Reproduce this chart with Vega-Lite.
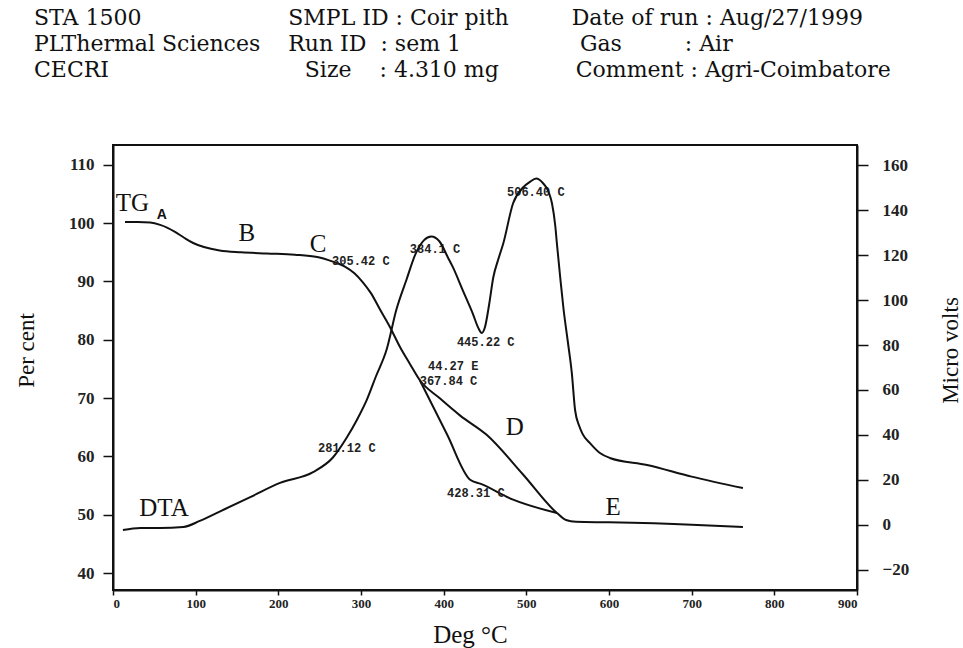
{
  "$schema": "https://vega.github.io/schema/vega-lite/v6.json",
  "width": 744,
  "height": 445,
  "autosize": {"type": "none"},
  "padding": {"left": 113, "top": 145, "right": 106, "bottom": 58},
  "background": "white",
  "title": {
    "text": [
      "STA 1500\u00a0\u00a0\u00a0\u00a0\u00a0\u00a0\u00a0\u00a0\u00a0\u00a0\u00a0\u00a0\u00a0\u00a0\u00a0\u00a0\u00a0\u00a0\u00a0\u00a0\u00a0SMPL ID : Coir pith\u00a0\u00a0\u00a0\u00a0\u00a0\u00a0\u00a0\u00a0\u00a0Date of run\u00a0: Aug/27/1999",
      "PLThermal Sciences\u00a0\u00a0\u00a0\u00a0Run ID\u00a0\u00a0: sem 1\u00a0\u00a0\u00a0\u00a0\u00a0\u00a0\u00a0\u00a0\u00a0\u00a0\u00a0\u00a0\u00a0\u00a0\u00a0\u00a0\u00a0Gas\u00a0\u00a0\u00a0\u00a0\u00a0\u00a0\u00a0\u00a0\u00a0: Air",
      "CECRI\u00a0\u00a0\u00a0\u00a0\u00a0\u00a0\u00a0\u00a0\u00a0\u00a0\u00a0\u00a0\u00a0\u00a0\u00a0\u00a0\u00a0\u00a0\u00a0\u00a0\u00a0\u00a0\u00a0\u00a0\u00a0\u00a0\u00a0\u00a0Size\u00a0\u00a0\u00a0\u00a0: 4.310 mg\u00a0\u00a0\u00a0\u00a0\u00a0\u00a0\u00a0\u00a0\u00a0\u00a0\u00a0Comment\u00a0: Agri-Coimbatore"
    ],
    "anchor": "start",
    "frame": "group",
    "dx": -79,
    "offset": 63,
    "font": "DejaVu Serif",
    "fontSize": 22,
    "fontWeight": "normal",
    "color": "#111",
    "lineHeight": 26
  },
  "datasets": {
    "tg": [
      {"temp": 14.5, "pct": 100.2, "branch": "main"},
      {"temp": 30, "pct": 100.2, "branch": "main"},
      {"temp": 45, "pct": 100.1, "branch": "main"},
      {"temp": 57, "pct": 99.7, "branch": "main"},
      {"temp": 66, "pct": 99.2, "branch": "main"},
      {"temp": 75, "pct": 98.5, "branch": "main"},
      {"temp": 86, "pct": 97.5, "branch": "main"},
      {"temp": 97, "pct": 96.6, "branch": "main"},
      {"temp": 110, "pct": 95.9, "branch": "main"},
      {"temp": 129, "pct": 95.3, "branch": "main"},
      {"temp": 155, "pct": 95.0, "branch": "main"},
      {"temp": 186, "pct": 94.8, "branch": "main"},
      {"temp": 220, "pct": 94.6, "branch": "main"},
      {"temp": 247, "pct": 94.2, "branch": "main"},
      {"temp": 266, "pct": 93.4, "branch": "main"},
      {"temp": 280, "pct": 92.6, "branch": "main"},
      {"temp": 292, "pct": 91.4, "branch": "main"},
      {"temp": 302, "pct": 89.9, "branch": "main"},
      {"temp": 312, "pct": 88.0, "branch": "main"},
      {"temp": 323, "pct": 85.2, "branch": "main"},
      {"temp": 335, "pct": 82.2, "branch": "main"},
      {"temp": 347, "pct": 78.8, "branch": "main"},
      {"temp": 359, "pct": 75.9, "branch": "main"},
      {"temp": 371, "pct": 73.1, "branch": "main"},
      {"temp": 395, "pct": 70.0, "branch": "main"},
      {"temp": 420, "pct": 67.0, "branch": "main"},
      {"temp": 452, "pct": 63.7, "branch": "main"},
      {"temp": 496, "pct": 56.9, "branch": "main"},
      {"temp": 537, "pct": 50.3, "branch": "main"},
      {"temp": 548, "pct": 49.1, "branch": "main"},
      {"temp": 560, "pct": 48.8, "branch": "main"},
      {"temp": 600, "pct": 48.7, "branch": "main"},
      {"temp": 700, "pct": 48.3, "branch": "main"},
      {"temp": 762, "pct": 47.9, "branch": "main"},
      {"temp": 371, "pct": 73.1, "branch": "tangent"},
      {"temp": 404, "pct": 63.8, "branch": "tangent"},
      {"temp": 432, "pct": 56.0, "branch": "tangent"},
      {"temp": 445, "pct": 55.3, "branch": "tangent"},
      {"temp": 484, "pct": 52.6, "branch": "tangent"},
      {"temp": 537, "pct": 50.3, "branch": "tangent"}
    ],
    "dta": [
      {"temp": 12, "uv": -2.2}, {"temp": 33, "uv": -1.3}, {"temp": 57, "uv": -1.3},
      {"temp": 85, "uv": -0.9}, {"temp": 105, "uv": 1.8}, {"temp": 135, "uv": 7.0},
      {"temp": 166, "uv": 12.4}, {"temp": 202, "uv": 18.7}, {"temp": 242, "uv": 23.5},
      {"temp": 266, "uv": 30}, {"temp": 283, "uv": 39}, {"temp": 295, "uv": 46.7},
      {"temp": 307, "uv": 55.6}, {"temp": 318, "uv": 66}, {"temp": 331, "uv": 78},
      {"temp": 343, "uv": 96}, {"temp": 355, "uv": 109}, {"temp": 366, "uv": 120.5},
      {"temp": 376, "uv": 126.5}, {"temp": 385, "uv": 128.2}, {"temp": 395, "uv": 126},
      {"temp": 405, "uv": 119}, {"temp": 411, "uv": 114.7}, {"temp": 423, "uv": 104.4},
      {"temp": 435, "uv": 94.2}, {"temp": 442, "uv": 87.5}, {"temp": 446, "uv": 85.3},
      {"temp": 450, "uv": 88}, {"temp": 455, "uv": 98}, {"temp": 460, "uv": 110},
      {"temp": 466, "uv": 118}, {"temp": 472, "uv": 125}, {"temp": 484, "uv": 143},
      {"temp": 496, "uv": 150}, {"temp": 504, "uv": 152.4}, {"temp": 512, "uv": 154},
      {"temp": 520, "uv": 152}, {"temp": 527, "uv": 148}, {"temp": 531, "uv": 143},
      {"temp": 535, "uv": 133}, {"temp": 537, "uv": 125}, {"temp": 541, "uv": 110},
      {"temp": 545, "uv": 96}, {"temp": 550, "uv": 82}, {"temp": 555, "uv": 67.6},
      {"temp": 559, "uv": 51}, {"temp": 564, "uv": 44}, {"temp": 568, "uv": 40.5},
      {"temp": 577, "uv": 36.4}, {"temp": 589, "uv": 32}, {"temp": 601, "uv": 29.8},
      {"temp": 646, "uv": 26.7}, {"temp": 700, "uv": 21.5}, {"temp": 762, "uv": 16.4}
    ],
    "notes": [
      {"temp": 23.6, "pct": 103.4, "text": "TG", "kind": "letter"},
      {"temp": 162, "pct": 98.3, "text": "B", "kind": "letter"},
      {"temp": 248, "pct": 96.4, "text": "C", "kind": "letter"},
      {"temp": 486, "pct": 65.1, "text": "D", "kind": "letter"},
      {"temp": 605, "pct": 51.3, "text": "E", "kind": "letter"},
      {"temp": 61.7, "pct": 51.2, "text": "DTA", "kind": "letter"},
      {"temp": 59, "pct": 101.4, "text": "A", "kind": "sub"},
      {"temp": 265, "pct": 93.5, "text": "305.42 C", "kind": "mono"},
      {"temp": 359, "pct": 95.6, "text": "384.1  C", "kind": "mono"},
      {"temp": 416, "pct": 79.6, "text": "445.22  C", "kind": "mono"},
      {"temp": 381, "pct": 75.5, "text": "44.27 E", "kind": "mono"},
      {"temp": 371, "pct": 73.0, "text": "367.84 C", "kind": "mono"},
      {"temp": 404, "pct": 53.7, "text": "428.31 C", "kind": "mono"},
      {"temp": 248, "pct": 61.5, "text": "281.12  C", "kind": "mono"},
      {"temp": 476.6, "pct": 105.4, "text": "506.40  C", "kind": "mono"}
    ]
  },
  "layer": [
    {
      "layer": [
        {
          "data": {"name": "tg"},
          "mark": {"type": "line", "color": "#111", "strokeWidth": 2, "interpolate": "monotone"},
          "encoding": {
            "x": {
              "field": "temp", "type": "quantitative",
              "scale": {"domain": [0, 900], "nice": false, "zero": false},
              "axis": {
                "values": [0, 100, 200, 300, 400, 500, 600, 700, 800, 900],
                "format": "d",
                "grid": false,
                "labelFont": "Liberation Serif", "labelFontWeight": "bold", "labelFontSize": 13, "labelColor": "#222",
                "labelPadding": 2,
                "tickSize": 5, "tickColor": "#111", "tickWidth": 1.5,
                "domainColor": "#111", "domainWidth": 2,
                "title": "Deg °C",
                "titleFont": "Liberation Serif", "titleFontSize": 25, "titleFontWeight": "normal", "titleColor": "#111",
                "titleX": 357, "titleY": 44, "titleBaseline": "middle", "titleAlign": "center"
              }
            },
            "y": {
              "field": "pct", "type": "quantitative",
              "scale": {"domain": [37.1, 113.4], "nice": false, "zero": false},
              "axis": {
                "orient": "left",
                "values": [40, 50, 60, 70, 80, 90, 100, 110],
                "grid": false,
                "labelFont": "Liberation Serif", "labelFontWeight": "bold", "labelFontSize": 17, "labelColor": "#222",
                "labelPadding": 9,
                "tickSize": 10, "tickColor": "#111", "tickWidth": 1.5,
                "domainColor": "#111", "domainWidth": 2,
                "title": "Per cent",
                "titleFont": "Liberation Serif", "titleFontSize": 23, "titleFontWeight": "normal", "titleColor": "#111",
                "titleAngle": 270, "titleX": -87, "titleY": 205, "titleBaseline": "middle", "titleAlign": "center"
              }
            },
            "detail": {"field": "branch"}
          }
        },
        {
          "data": {"name": "notes"},
          "transform": [{"filter": "datum.kind === 'letter'"}],
          "mark": {"type": "text", "font": "Liberation Serif", "fontSize": 25, "color": "#111", "align": "center", "baseline": "middle"},
          "encoding": {
            "x": {"field": "temp", "type": "quantitative", "scale": {"domain": [0, 900], "nice": false, "zero": false}},
            "y": {"field": "pct", "type": "quantitative", "scale": {"domain": [37.1, 113.4], "nice": false, "zero": false}},
            "text": {"field": "text"}
          }
        },
        {
          "data": {"name": "notes"},
          "transform": [{"filter": "datum.kind === 'sub'"}],
          "mark": {"type": "text", "font": "Liberation Sans", "fontWeight": "bold", "fontSize": 14, "color": "#111", "align": "center", "baseline": "middle"},
          "encoding": {
            "x": {"field": "temp", "type": "quantitative", "scale": {"domain": [0, 900], "nice": false, "zero": false}},
            "y": {"field": "pct", "type": "quantitative", "scale": {"domain": [37.1, 113.4], "nice": false, "zero": false}},
            "text": {"field": "text"}
          }
        },
        {
          "data": {"name": "notes"},
          "transform": [{"filter": "datum.kind === 'mono'"}],
          "mark": {"type": "text", "font": "Liberation Mono", "fontWeight": "bold", "fontSize": 12, "color": "#222", "align": "left", "baseline": "middle"},
          "encoding": {
            "x": {"field": "temp", "type": "quantitative", "scale": {"domain": [0, 900], "nice": false, "zero": false}},
            "y": {"field": "pct", "type": "quantitative", "scale": {"domain": [37.1, 113.4], "nice": false, "zero": false}},
            "text": {"field": "text"}
          }
        }
      ]
    },
    {
      "data": {"name": "dta"},
      "mark": {"type": "line", "color": "#111", "strokeWidth": 2, "interpolate": "monotone"},
      "encoding": {
        "x": {"field": "temp", "type": "quantitative", "scale": {"domain": [0, 900], "nice": false, "zero": false}},
        "y": {
          "field": "uv", "type": "quantitative",
          "scale": {"domain": [-28.9, 168.9], "nice": false, "zero": false},
          "axis": {
            "orient": "right",
            "values": [-20, 0, 20, 40, 60, 80, 100, 120, 140, 160],
            "grid": false,
            "labelFont": "Liberation Serif", "labelFontWeight": "bold", "labelFontSize": 17, "labelColor": "#222",
            "labelPadding": 14, "labelAlign": "left",
            "tickSize": 11, "tickColor": "#111", "tickWidth": 1.5,
            "domainColor": "#111", "domainWidth": 2,
            "title": "Micro volts",
            "titleFont": "Liberation Serif", "titleFontSize": 23, "titleFontWeight": "normal", "titleColor": "#111",
            "titleAngle": 270, "titleX": 93, "titleY": 205, "titleBaseline": "middle", "titleAlign": "center"
          }
        }
      }
    }
  ],
  "resolve": {"scale": {"y": "independent"}},
  "config": {
    "view": {"stroke": "#111", "strokeWidth": 2},
    "axis": {"grid": false}
  }
}
